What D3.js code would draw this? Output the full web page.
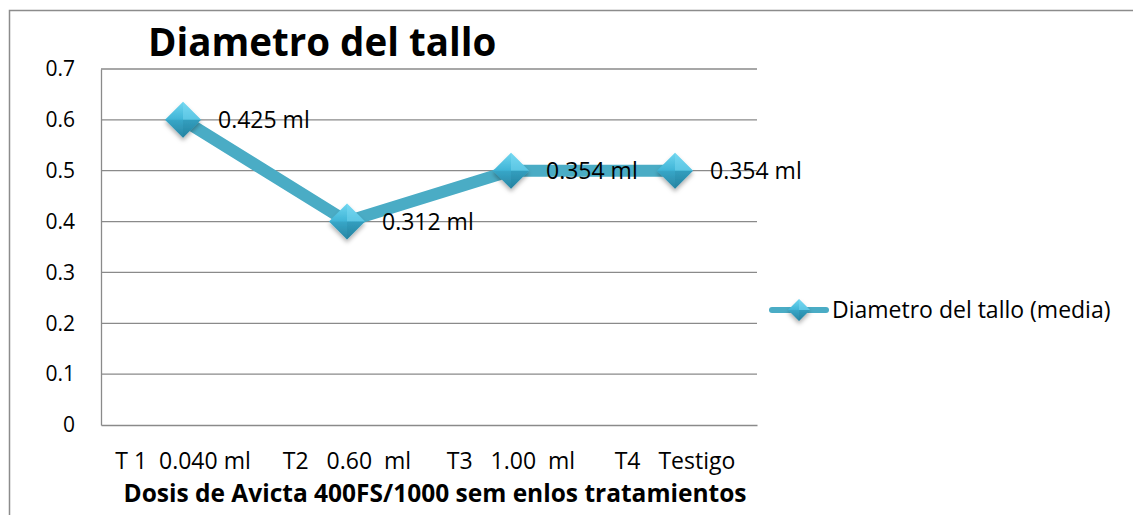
<!DOCTYPE html>
<html>
<head>
<meta charset="utf-8">
<script src="https://cdn.jsdelivr.net/npm/d3@7"></script>
<style>
	body { margin: 0; background: #fff; }
	svg text { font-family: "Open Sans", "Liberation Sans", sans-serif; }
</style>
</head>
<body>
<div id="chart"></div>
<script>
const categories = ['T 1  0.040 ml', 'T2   0.60  ml', 'T3   1.00  ml', 'T4   Testigo'];
const values = [0.6, 0.4, 0.5, 0.5];
const pointLabels = ['0.425 ml', '0.312 ml', '0.354 ml', '0.354 ml'];
const yTicks = [0, 0.1, 0.2, 0.3, 0.4, 0.5, 0.6, 0.7];
const seriesName = 'Diametro del tallo (media)';

const widthSvg = 1133;
const heightSvg = 515;
const plot = {left: 101, right: 757, top: 69, bottom: 425};
const lineColor = '#4aacc5';
const font = '"Open Sans", "Liberation Sans", sans-serif';

const svg = d3.select('#chart').append('svg')
	.attr('width', widthSvg)
	.attr('height', heightSvg);

// marker gradient
const defs = svg.append('defs');
const grad = defs.append('linearGradient')
	.attr('id', 'mk').attr('x1', 0).attr('y1', 0).attr('x2', 0).attr('y2', 1);
grad.append('stop').attr('offset', '0%').attr('stop-color', '#6fd6f0');
grad.append('stop').attr('offset', '50%').attr('stop-color', '#3fb4d6');
grad.append('stop').attr('offset', '100%').attr('stop-color', '#2a8aa8');
const shadow = defs.append('filter').attr('id', 'sh')
	.attr('x', '-50%').attr('y', '-50%').attr('width', '200%').attr('height', '200%');
shadow.append('feDropShadow').attr('dx', 0).attr('dy', 3).attr('stdDeviation', 2)
	.attr('flood-color', '#000').attr('flood-opacity', 0.3);

// chart frame (cropped at right / bottom)
svg.append('path')
	.attr('d', `M9.5,${heightSvg + 5} V10.5 H${widthSvg + 5}`)
	.attr('fill', 'none')
	.attr('stroke', '#8c8c8c')
	.attr('stroke-width', 1.5);

const xScale = d3.scaleBand()
	.domain(categories)
	.range([plot.left, plot.right]);

const yScale = d3.scaleLinear()
	.domain([0, 0.7])
	.range([plot.bottom, plot.top]);

// gridlines
svg.append('g')
	.selectAll('line')
	.data(yTicks.filter(t => t > 0))
	.enter().append('line')
	.attr('x1', plot.left).attr('x2', plot.right)
	.attr('y1', d => yScale(d)).attr('y2', d => yScale(d))
	.attr('stroke', '#8a8a8a').attr('stroke-width', 1.3);

// y axis
const yAxis = d3.axisLeft(yScale).tickValues(yTicks).tickSize(0).tickPadding(26)
	.tickFormat(d => d === 0 ? '0' : d3.format('.1f')(d));
svg.append('g')
	.attr('transform', `translate(${plot.left},0)`)
	.call(yAxis)
	.call(g => g.select('.domain').attr('stroke', '#8a8a8a').attr('stroke-width', 1.3))
	.call(g => g.selectAll('text').attr('font-size', 21).attr('fill', '#000')
		.style('font-family', font));

// x axis
const xAxis = d3.axisBottom(xScale).tickSize(0).tickPadding(28);
svg.append('g')
	.attr('transform', `translate(0,${plot.bottom})`)
	.call(xAxis)
	.call(g => g.select('.domain').attr('stroke', '#8a8a8a').attr('stroke-width', 1.3))
	.call(g => g.selectAll('text').attr('font-size', 23).attr('fill', '#000')
		.style('white-space', 'pre')
		.style('font-family', font));

// line
const cx = (d, i) => xScale(categories[i]) + xScale.bandwidth() / 2;
const line = d3.line()
	.x(cx)
	.y(d => yScale(d));

svg.append('path')
	.datum(values)
	.attr('d', line)
	.attr('fill', 'none')
	.attr('stroke', lineColor)
	.attr('stroke-width', 12)
	.attr('stroke-linejoin', 'miter');

const drawMarker = (g, size) => {
	g.attr('filter', 'url(#sh)');
	g.append('path')
		.attr('d', `M0,${-size} L${size},0 L0,${size} L${-size},0 Z`)
		.attr('fill', 'url(#mk)');
	g.append('path')
		.attr('d', `M0,${-size} L${size},0 L0,0 Z`)
		.attr('fill', '#7fdcf3').attr('opacity', 0.45);
	g.append('path')
		.attr('d', `M0,${size} L${size},0 L0,0 Z`)
		.attr('fill', '#1d7591').attr('opacity', 0.35);
	g.append('path')
		.attr('d', `M0,${size} L${-size},0 L0,0 Z`)
		.attr('fill', '#1d7591').attr('opacity', 0.2);
};

svg.append('g')
	.selectAll('g')
	.data(values)
	.enter().append('g')
	.attr('transform', (d, i) => `translate(${cx(d, i)},${yScale(d)})`)
	.each(function () { drawMarker(d3.select(this), 18); });

// point labels
svg.append('g')
	.selectAll('text')
	.data(values)
	.enter().append('text')
	.attr('x', (d, i) => cx(d, i) + 35)
	.attr('y', d => yScale(d))
	.attr('dy', '0.35em')
	.attr('font-size', 23)
	.attr('fill', '#000')
	.text((d, i) => pointLabels[i]);

// title
svg.append('text')
	.attr('x', 148)
	.attr('y', 56)
	.attr('font-size', 38.5)
	.attr('font-weight', 'bold')
	.attr('fill', '#000')
	.text('Diametro del tallo');

// x axis title
svg.append('text')
	.attr('x', 435)
	.attr('y', 502)
	.attr('text-anchor', 'middle')
	.attr('font-size', 24.5)
	.attr('font-weight', 'bold')
	.attr('fill', '#000')
	.text('Dosis de Avicta 400FS/1000 sem enlos tratamientos');

// legend
const legend = svg.append('g').attr('transform', 'translate(772,310)');
legend.append('line')
	.attr('x1', 0).attr('x2', 54)
	.attr('stroke', lineColor).attr('stroke-width', 6).attr('stroke-linecap', 'round');
drawMarker(legend.append('g').attr('transform', 'translate(27,0)'), 11);
legend.append('text')
	.attr('x', 60)
	.attr('dy', '0.35em')
	.attr('font-size', 23)
	.attr('fill', '#000')
	.text(seriesName);
</script>
</body>
</html>
